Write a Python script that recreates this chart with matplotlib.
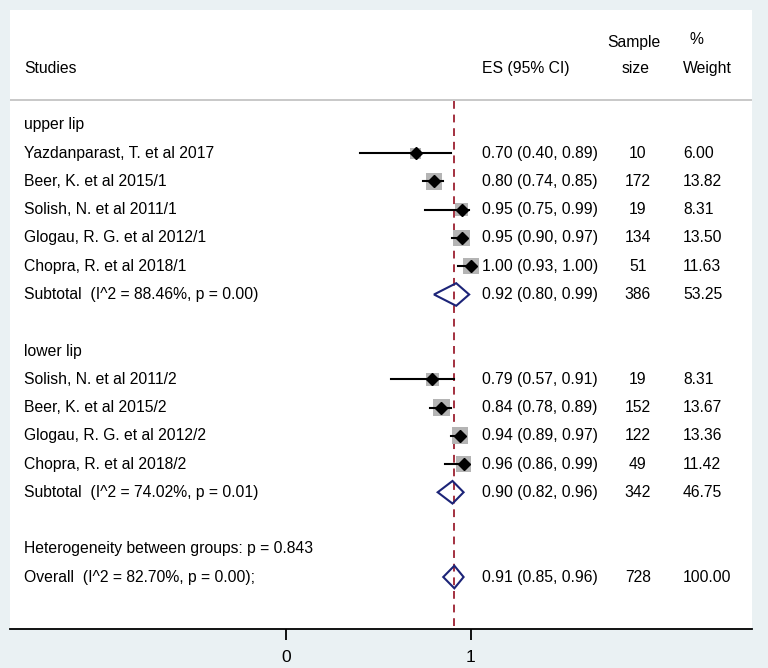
import matplotlib
matplotlib.use("Agg")
import matplotlib.pyplot as plt
from matplotlib.patches import Polygon

plt.rcParams["font.family"] = ["Liberation Sans", "DejaVu Sans"]

# rows of the forest plot, top to bottom ("group" rows carry no estimate)
row_kind = ["group", "study", "study", "study", "study", "study", "sub",
            "blank",
            "group", "study", "study", "study", "study", "sub",
            "blank",
            "het", "overall"]
row_label = ["upper lip",
             "Yazdanparast, T. et al 2017",
             "Beer, K. et al 2015/1",
             "Solish, N. et al 2011/1",
             "Glogau, R. G. et al 2012/1",
             "Chopra, R. et al 2018/1",
             "Subtotal  (I^2 = 88.46%, p = 0.00)",
             "",
             "lower lip",
             "Solish, N. et al 2011/2",
             "Beer, K. et al 2015/2",
             "Glogau, R. G. et al 2012/2",
             "Chopra, R. et al 2018/2",
             "Subtotal  (I^2 = 74.02%, p = 0.01)",
             "",
             "Heterogeneity between groups: p = 0.843",
             "Overall  (I^2 = 82.70%, p = 0.00);"]
es = [None, 0.70, 0.80, 0.95, 0.95, 1.00, 0.92, None,
      None, 0.79, 0.84, 0.94, 0.96, 0.90, None, None, 0.91]
lo = [None, 0.40, 0.74, 0.75, 0.90, 0.93, 0.80, None,
      None, 0.57, 0.78, 0.89, 0.86, 0.82, None, None, 0.85]
hi = [None, 0.89, 0.85, 0.99, 0.97, 1.00, 0.99, None,
      None, 0.91, 0.89, 0.97, 0.99, 0.96, None, None, 0.96]
sample = [None, 10, 172, 19, 134, 51, 386, None,
          None, 19, 152, 122, 49, 342, None, None, 728]
weight = [None, 6.00, 13.82, 8.31, 13.50, 11.63, 53.25, None,
          None, 8.31, 13.67, 13.36, 11.42, 46.75, None, None, 100.00]

overall_es = 0.91
xticks = [0, 1]

fig = plt.figure(figsize=(7.68, 6.68), dpi=100, facecolor="#eaf1f3")
ax = fig.add_axes([10 / 768, 1 - 629 / 668, 742 / 768, 619 / 668])
ax.set_facecolor("white")
ax.set_xlim(-1.492, 2.519)
ax.set_ylim(17.84, -4.07)

for s in ["top", "left", "right"]:
    ax.spines[s].set_visible(False)
ax.spines["bottom"].set_linewidth(1.3)
ax.set_yticks([])
ax.set_xticks(xticks)
ax.set_xticklabels([str(t) for t in xticks], fontsize=12.5)
ax.tick_params(axis="x", direction="out", length=8, width=1.3, pad=7)

fs = 11.3
tr = ax.get_yaxis_transform()  # x in axes fraction, y in data rows
x_lab, x_es, x_n, x_w = 0.0189, 0.636, 0.846, 0.907

# header
ax.text(x_lab, -2.0, "Studies", transform=tr, fontsize=fs, va="center")
ax.text(x_es, -2.0, "ES (95% CI)", transform=tr, fontsize=fs, va="center")
ax.text(x_n - 0.005, -2.93, "Sample", transform=tr, fontsize=fs, va="center", ha="center")
ax.text(x_n - 0.003, -2.0, "size", transform=tr, fontsize=fs, va="center", ha="center")
ax.text(x_w + 0.009, -3.03, "%", transform=tr, fontsize=fs, va="center")
ax.text(x_w, -2.0, "Weight", transform=tr, fontsize=fs, va="center")
ax.axhline(-0.9, color="#c4c4c4", lw=1.3)

# reference line at the overall estimate
ax.plot([overall_es, overall_es], [-0.85, 17.84], color="#a3303f", lw=1.4,
        ls=(0, (4, 3)), zorder=1)

for i, kind in enumerate(row_kind):
    if row_label[i]:
        ax.text(x_lab, i, row_label[i], transform=tr, fontsize=fs, va="center")
    if es[i] is None:
        continue
    ax.text(x_es, i, f"{es[i]:.2f} ({lo[i]:.2f}, {hi[i]:.2f})", transform=tr,
            fontsize=fs, va="center")
    ax.text(x_n, i, str(sample[i]), transform=tr, fontsize=fs, va="center", ha="center")
    ax.text(x_w, i, f"{weight[i]:.2f}", transform=tr, fontsize=fs, va="center")
    if kind == "study":
        ax.scatter([es[i]], [i], marker="s", s=weight[i] * 10.8, color="#b4b4b4",
                   edgecolors="none", zorder=2)
        ax.plot([lo[i], hi[i]], [i, i], color="black", lw=1.5, zorder=3)
        ax.plot([es[i]], [i], marker="D", ms=6.5, color="black", zorder=4)
    else:
        h = 0.4
        dia = Polygon([(lo[i], i), (es[i], i - h), (hi[i], i), (es[i], i + h)],
                      closed=True, facecolor="none", edgecolor="#1c2478", lw=1.5,
                      zorder=4)
        ax.add_patch(dia)

fig.savefig("out.png", dpi=100, facecolor=fig.get_facecolor())
